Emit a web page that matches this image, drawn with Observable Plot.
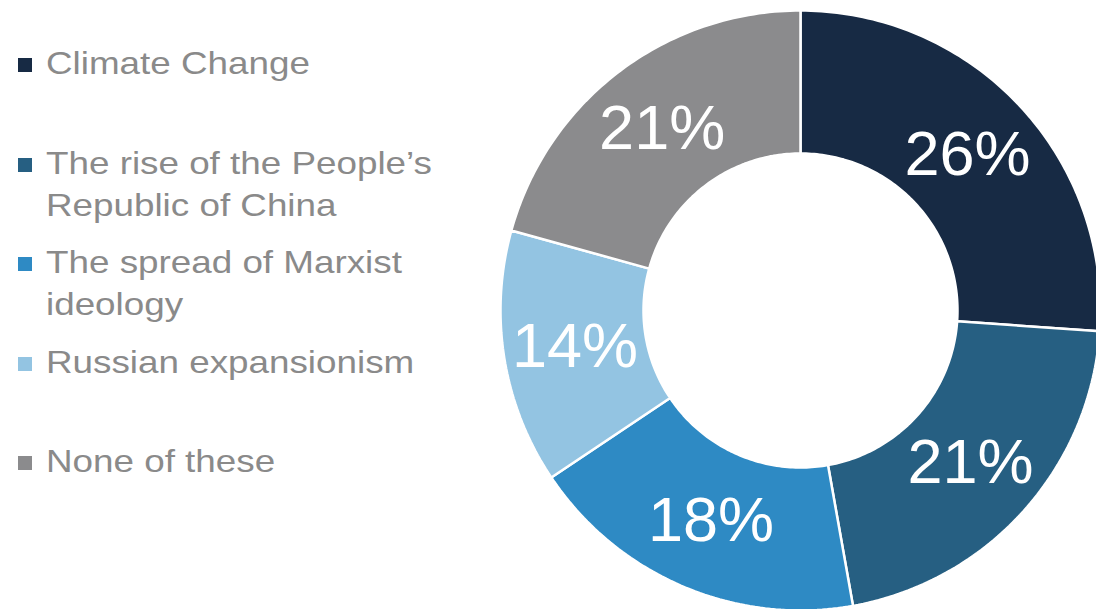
<!DOCTYPE html>
<html>
<head>
<meta charset="utf-8">
<script src="https://cdn.jsdelivr.net/npm/d3@7"></script>
<script src="https://cdn.jsdelivr.net/npm/@observablehq/plot@0.6"></script>
<style>
  html, body { margin: 0; padding: 0; background: #fff; }
  #wrap { position: relative; width: 1096px; height: 609px; overflow: hidden; }
  #chart { position: absolute; left: 0; top: 0; }
  #legend { position: absolute; left: 0; top: 42px; font-family: "Liberation Sans", Arial, sans-serif; }
  .entry { position: relative; height: 99.5px; }
  .sw { position: absolute; left: 18px; top: 16px; width: 14px; height: 14px; }
  .lbl { position: absolute; left: 46px; top: 0; font-size: 32px; line-height: 42px; color: #8a8a8a; white-space: pre; transform: scaleX(1.15); transform-origin: 0 0; }
</style>
</head>
<body>
<div id="wrap">
  <div id="chart"></div>
  <div id="legend"></div>
</div>
<script>
const categories = ["Climate Change", "The rise of the People’s Republic of China", "The spread of Marxist ideology", "Russian expansionism", "None of these"];
const legendLabels = ["Climate Change", "The rise of the People’s\nRepublic of China", "The spread of Marxist\nideology", "Russian expansionism", "None of these"];
const values = [26.1, 21.1, 18.4, 13.7, 20.7];
const colors = ["#172a44", "#265f82", "#2e8ac4", "#93c4e2", "#8b8b8d"];

const W = 1096, H = 609;
const cx = 800, cy = 310, R = 300, rInner = 157 / 300;

const total = d3.sum(values);
const rows = [];
const labels = [];
let acc = 0;
values.forEach((v, i) => {
  const a0 = acc / total * 2 * Math.PI;
  acc += v;
  const a1 = acc / total * 2 * Math.PI;
  const n = Math.max(2, Math.ceil((a1 - a0) / (Math.PI / 180)));
  for (let k = 0; k <= n; k++) {
    const a = a0 + (a1 - a0) * k / n;
    rows.push({category: categories[i], x: Math.sin(a), y: Math.cos(a)});
  }
  for (let k = n; k >= 0; k--) {
    const a = a0 + (a1 - a0) * k / n;
    rows.push({category: categories[i], x: rInner * Math.sin(a), y: rInner * Math.cos(a)});
  }
  const am = (a0 + a1) / 2, rm = (1 + rInner) / 2;
  labels.push({x: rm * Math.sin(am), y: rm * Math.cos(am), text: Math.round(v) + "%"});
});

const chart = Plot.plot({
  width: W,
  height: H,
  margin: 0,
  x: {domain: [-cx / R, (W - cx) / R], range: [0, W], axis: null},
  y: {domain: [-(H - cy) / R, cy / R], range: [H, 0], axis: null},
  color: {domain: categories, range: colors},
  style: {background: "transparent"},
  marks: [
    Plot.line(rows, {x: "x", y: "y", z: "category", fill: "category", stroke: "white", strokeWidth: 2.5, strokeLinejoin: "miter", curve: "linear-closed"}),
    Plot.text(labels, {x: "x", y: "y", text: "text", fill: "white", fontSize: 63, fontFamily: "Liberation Sans, Arial, sans-serif"})
  ]
});
document.getElementById("chart").appendChild(chart);

const legend = document.getElementById("legend");
legendLabels.forEach((t, i) => {
  const e = document.createElement("div");
  e.className = "entry";
  const s = document.createElement("div");
  s.className = "sw";
  s.style.background = colors[i];
  const l = document.createElement("div");
  l.className = "lbl";
  l.textContent = t;
  e.appendChild(s);
  e.appendChild(l);
  legend.appendChild(e);
});
</script>
</body>
</html>
